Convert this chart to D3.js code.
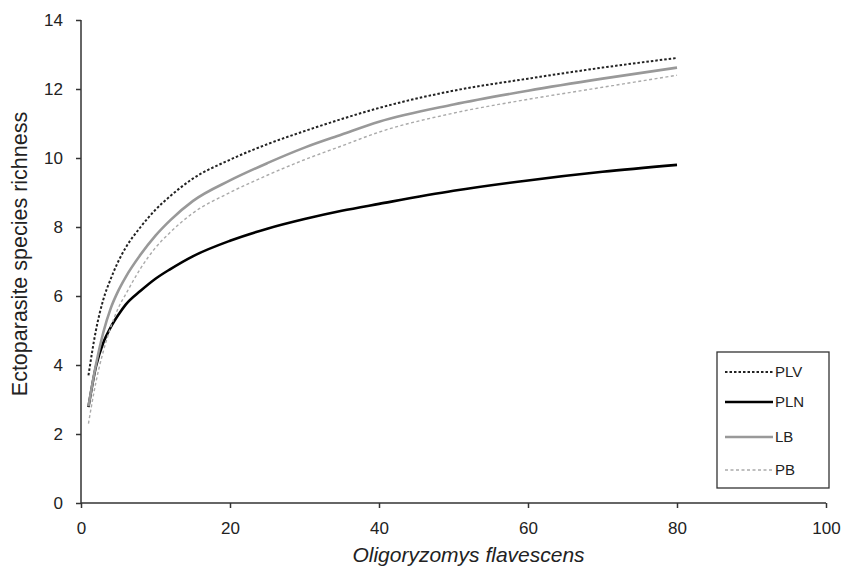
<!DOCTYPE html>
<html>
<head>
<meta charset="utf-8">
<script src="https://cdn.jsdelivr.net/npm/d3@7"></script>
<style>
    body { margin: 0; background: #fff; }
    text { font-family: "Liberation Sans", Arial, sans-serif; fill: #222; }
</style>
</head>
<body>
<svg id="chart" width="843" height="567"></svg>
<script>
// samples along the x axis (number of hosts examined)
var xSamples = [1, 2, 3, 4, 5, 6, 8, 10, 12, 15, 20, 25, 30, 35, 40, 50, 60, 70, 80];

// one value per sample
var plv = [3.7, 5.0, 5.9, 6.5, 7.0, 7.4, 8.0, 8.5, 8.9, 9.4, 9.95, 10.4, 10.78, 11.13, 11.45, 11.95, 12.3, 12.62, 12.9];
var pln = [2.78, 3.95, 4.65, 5.1, 5.45, 5.75, 6.15, 6.5, 6.78, 7.15, 7.6, 7.95, 8.23, 8.47, 8.67, 9.05, 9.35, 9.6, 9.8];
var lb  = [2.8, 4.0, 4.95, 5.65, 6.15, 6.55, 7.2, 7.75, 8.2, 8.75, 9.35, 9.85, 10.3, 10.68, 11.05, 11.55, 11.95, 12.3, 12.62];
var pb  = [2.3, 3.5, 4.4, 5.1, 5.65, 6.05, 6.8, 7.4, 7.85, 8.4, 9.0, 9.5, 9.95, 10.35, 10.75, 11.3, 11.7, 12.05, 12.4];

var seriesNames = ["PLV", "PLN", "LB", "PB"];
var xTicks = [0, 20, 40, 60, 80, 100];
var yTicks = [0, 2, 4, 6, 8, 10, 12, 14];

var styles = {
    "PLV": {color: "#222", width: 2, dash: "2.5,2"},
    "PLN": {color: "#000", width: 2.6, dash: null},
    "LB":  {color: "#999", width: 2.6, dash: null},
    "PB":  {color: "#aaa", width: 1.4, dash: "3,2.5"}
};

var seriesValues = {"PLV": plv, "PLN": pln, "LB": lb, "PB": pb};

var svg = d3.select("#chart");
var margin = {left: 81, right: 17, top: 20, bottom: 64};
var width = 843 - margin.left - margin.right;
var height = 567 - margin.top - margin.bottom;

var x = d3.scaleLinear().domain([0, 100]).range([0, width]);
var y = d3.scaleLinear().domain([0, 14]).range([height, 0]);

var g = svg.append("g").attr("transform", "translate(" + margin.left + "," + margin.top + ")");

// axes
var xAxis = g.append("g")
    .attr("transform", "translate(0," + height + ")")
    .call(d3.axisBottom(x).tickValues(xTicks).tickSize(5).tickPadding(14));
var yAxis = g.append("g")
    .call(d3.axisLeft(y).tickValues(yTicks).tickSize(5).tickPadding(13));
[xAxis, yAxis].forEach(function(a) {
    a.selectAll("path, line").attr("stroke", "#333").attr("stroke-width", 1.5);
    a.selectAll("text").style("font-size", "17px").attr("fill", "#222");
    a.select(".domain").attr("d", function() {
        return a === xAxis ? "M0,0H" + width : "M0,0V" + height;
    });
});

// curves
var line = d3.line()
    .x(function(d) { return x(d.x); })
    .y(function(d) { return y(d.y); })
    .curve(d3.curveMonotoneX);

seriesNames.forEach(function(name) {
    var pts = xSamples.map(function(xv, i) { return {x: xv, y: seriesValues[name][i]}; });
    var s = styles[name];
    g.append("path")
        .datum(pts)
        .attr("fill", "none")
        .attr("stroke", s.color)
        .attr("stroke-width", s.width)
        .attr("stroke-dasharray", s.dash)
        .attr("d", line);
});

// axis titles
svg.append("text")
    .attr("x", margin.left + x(50) + 15)
    .attr("y", 562)
    .attr("text-anchor", "middle")
    .style("font-size", "21px")
    .style("font-style", "italic")
    .text("Oligoryzomys flavescens");

svg.append("text")
    .attr("transform", "translate(27,254) rotate(-90)")
    .attr("text-anchor", "middle")
    .style("font-size", "21.5px")
    .text("Ectoparasite species richness");

// legend
var legend = svg.append("g").attr("transform", "translate(717,352)");
legend.append("rect")
    .attr("width", 112).attr("height", 136)
    .attr("fill", "#fff").attr("stroke", "#333").attr("stroke-width", 1.3);
var rowY = [20, 50, 85, 118];
seriesNames.forEach(function(name, i) {
    var s = styles[name];
    legend.append("line")
        .attr("x1", 8).attr("x2", 56)
        .attr("y1", rowY[i]).attr("y2", rowY[i])
        .attr("stroke", s.color)
        .attr("stroke-width", s.width)
        .attr("stroke-dasharray", s.dash);
    legend.append("text")
        .attr("x", 58).attr("y", rowY[i])
        .attr("dy", "0.35em")
        .style("font-size", "15px")
        .text(name);
});
</script>
</body>
</html>
